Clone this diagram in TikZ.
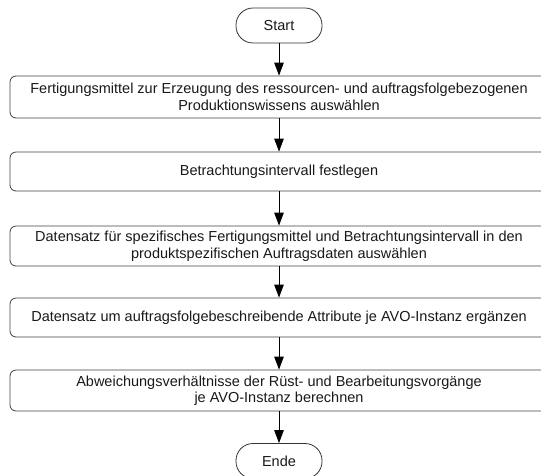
\documentclass[tikz,border=0pt]{standalone}
\usepackage{fontspec}
\setmainfont{Liberation Sans}
\usetikzlibrary{arrows.meta}
\begin{document}
\begin{tikzpicture}[x=1pt,y=-1pt,
  every node/.style={font=\fontsize{14.5}{16.5}\selectfont, text=black!90, align=center, inner sep=0pt},
  terminal/.style={draw=black!80, line width=0.8pt, rounded corners=17pt, minimum width=86pt, minimum height=35pt},
  stepbox/.style={draw=black!75, line width=0.8pt, rounded corners=6pt, minimum width=538pt},
  flow/.style={draw=black, line width=0.9pt, -{Triangle[length=13pt,width=9.5pt]}}]
  \useasboundingbox (0,0) rectangle (541,475);
  \node[terminal] (start) at (279,25.5) {Start};
  \node[stepbox, minimum height=42pt] (s1) at (279,97)
    {Fertigungsmittel zur Erzeugung des ressourcen- und auftragsfolgebezogenen\\Produktionswissens auswählen};
  \node[stepbox, minimum height=39pt] (s2) at (279,171.5) {Betrachtungsintervall festlegen};
  \node[stepbox, minimum height=40pt] (s3) at (279,246)
    {Datensatz für spezifisches Fertigungsmittel und Betrachtungsintervall in den\\produktspezifischen Auftragsdaten auswählen};
  \node[stepbox, minimum height=39pt] (s4) at (279,317.5)
    {Datensatz um auftragsfolgebeschreibende Attribute je AVO-Instanz ergänzen};
  \node[stepbox, minimum height=41pt] (s5) at (279,390.5)
    {Abweichungsverhältnisse der Rüst- und Bearbeitungsvorgänge\\je AVO-Instanz berechnen};
  \node[terminal] (ende) at (279,461) {Ende};
  \draw[flow] (start) -- (s1);
  \draw[flow] (s1) -- (s2);
  \draw[flow] (s2) -- (s3);
  \draw[flow] (s3) -- (s4);
  \draw[flow] (s4) -- (s5);
  \draw[flow] (s5) -- (ende);
\end{tikzpicture}
\end{document}
